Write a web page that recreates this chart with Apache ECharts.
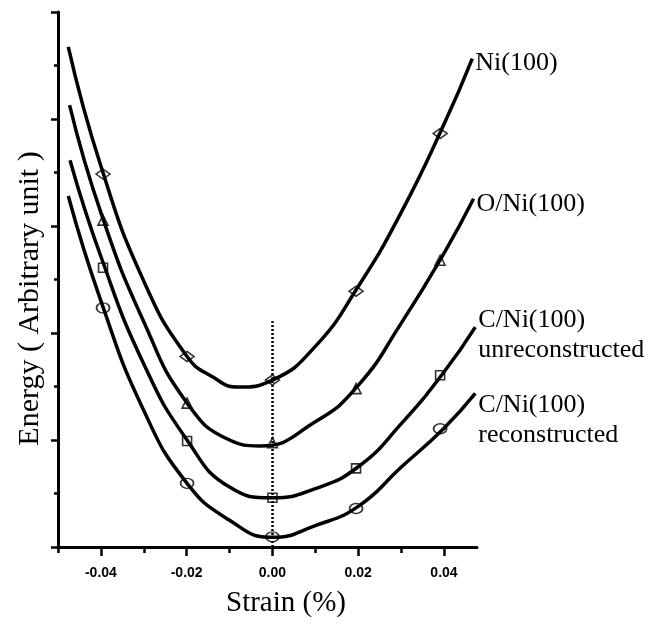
<!DOCTYPE html>
<html>
<head>
<meta charset="utf-8">
<title>Energy vs Strain</title>
<script src="https://cdn.jsdelivr.net/npm/echarts@6.0.0/dist/echarts.min.js"></script>
<style>
html, body { margin: 0; padding: 0; background: #fff; }
#chart { width: 655px; height: 627px; }
</style>
</head>
<body>
<div id="chart"></div>
<script>
// strain where the computed points sit (markers)
var markStrain = [-0.0395, -0.0199, 0, 0.0195, 0.0391];
var niMarks = [6.97, 3.56, 3.12, 4.78, 7.73];
var oniMarks = [6.11, 2.69, 1.95, 2.96, 5.36];
var unrecMarks = [5.22, 1.98, 0.92, 1.47, 3.21];
var recMarks = [4.47, 1.19, 0.19, 0.72, 2.21];

// fitted curves (bottom of each well included)
var niCurveX = [-0.0476, -0.04, -0.03, -0.02, -0.014, -0.008, 0, 0.01, 0.02, 0.03, 0.04, 0.0466];
var niCurveY = [9.35, 7.12, 4.97, 3.57, 3.18, 2.99, 3.12, 3.75, 4.87, 6.25, 7.90, 9.13];
var oniCurveX = [-0.0473, -0.04, -0.03, -0.02, -0.01, -0.003, 0.01, 0.02, 0.03, 0.04, 0.0469];
var oniCurveY = [8.26, 6.25, 4.21, 2.70, 2.00, 1.89, 2.34, 3.02, 4.18, 5.49, 6.51];
var unrecCurveX = [-0.0472, -0.04, -0.03, -0.02, -0.01, 0, 0.01, 0.02, 0.03, 0.04, 0.0473];
var unrecCurveY = [7.23, 5.43, 3.42, 2.01, 1.12, 0.92, 1.09, 1.50, 2.30, 3.27, 4.11];
var recCurveX = [-0.0476, -0.04, -0.03, -0.02, -0.01, 0, 0.01, 0.02, 0.03, 0.04, 0.0473];
var recCurveY = [6.56, 4.60, 2.55, 1.20, 0.50, 0.18, 0.40, 0.76, 1.49, 2.22, 2.87];

var curveNames = ['Ni(100)', 'O/Ni(100)', 'C/Ni(100)\nunreconstructed', 'C/Ni(100)\nreconstructed'];
var xTickValues = [-0.04, -0.02, 0, 0.02, 0.04];
var xMinorValues = [-0.05, -0.03, -0.01, 0.01, 0.03];
var dotLine = [0, 0, 4.22];   // x, y from, y to

function zip(xs, ys) {
    var out = [];
    for (var i = 0; i < xs.length; i++) {
        out.push([xs[i], ys[i]]);
    }
    return out;
}

function curveSeries(name, xs, ys, labelDy) {
    return {
        name: name,
        type: 'line',
        smooth: 0.5,
        showSymbol: false,
        symbol: 'none',
        z: 2,
        lineStyle: { color: '#000', width: 3.5 },
        data: zip(xs, ys),
        endLabel: {
            show: true,
            formatter: function (p) { return p.seriesName; },
            color: '#000',
            fontFamily: 'Liberation Serif',
            fontSize: 26,
            lineHeight: 30,
            distance: 3,
            offset: [0, labelDy]
        }
    };
}

function markSeries(symbol, size, ys) {
    return {
        type: 'scatter',
        symbol: symbol,
        symbolSize: size,
        z: 3,
        itemStyle: { color: 'transparent', borderColor: '#000', borderWidth: 1.6 },
        data: zip(markStrain, ys)
    };
}

function createChart() {
    var series = [
        curveSeries(curveNames[0], niCurveX, niCurveY, 5),
        curveSeries(curveNames[1], oniCurveX, oniCurveY, 5),
        curveSeries(curveNames[2], unrecCurveX, unrecCurveY, 8),
        curveSeries(curveNames[3], recCurveX, recCurveY, 27),
        markSeries('diamond', [14, 10], niMarks),
        markSeries('triangle', [10, 10], oniMarks),
        markSeries('rect', [9, 9], unrecMarks),
        markSeries('circle', [13, 10], recMarks)
    ];
    // dotted guide at zero strain
    series[0].markLine = {
        silent: true,
        symbol: ['none', 'none'],
        label: { show: false },
        lineStyle: { color: '#000', width: 2.5, type: [2, 2] },
        data: [[{ coord: [dotLine[0], dotLine[1]] }, { coord: [dotLine[0], dotLine[2]] }]]
    };

    var option = {
        animation: false,
        backgroundColor: '#fff',
        grid: { left: 58, right: 178, top: 12, bottom: 80 },
        xAxis: [{
            type: 'value',
            min: -0.05,
            max: 0.0477,
            name: 'Strain (%)',
            nameLocation: 'middle',
            nameGap: 42,
            nameTextStyle: { fontFamily: 'Liberation Serif', fontSize: 29, color: '#000', padding: [0, 0, 0, 37] },
            splitLine: { show: false },
            axisLine: { onZero: false, lineStyle: { color: '#000', width: 3 } },
            axisTick: { customValues: xTickValues, length: 9, lineStyle: { color: '#000', width: 2.5 } },
            axisLabel: {
                customValues: xTickValues,
                margin: 19,
                color: '#000',
                fontFamily: 'Liberation Sans',
                fontWeight: 'bold',
                fontSize: 14,
                formatter: function (v) { return v.toFixed(2); }
            }
        }, {
            type: 'value',
            min: -0.05,
            max: 0.0477,
            position: 'bottom',
            splitLine: { show: false },
            axisLine: { show: false },
            axisTick: { customValues: xMinorValues, length: 6, lineStyle: { color: '#000', width: 2.5 } },
            axisLabel: { show: false }
        }],
        yAxis: {
            type: 'value',
            min: 0,
            max: 10,
            interval: 2,
            name: 'Energy ( Arbitrary unit )',
            nameLocation: 'middle',
            nameGap: 13,
            nameTextStyle: { fontFamily: 'Liberation Serif', fontSize: 30, color: '#000', padding: [0, 38, 0, 0] },
            splitLine: { show: false },
            axisLine: { onZero: false, lineStyle: { color: '#000', width: 3 } },
            axisTick: { length: 7, lineStyle: { color: '#000', width: 2.5 } },
            minorTick: { show: true, splitNumber: 2, length: 4, lineStyle: { color: '#000', width: 2.5 } },
            axisLabel: { show: false }
        },
        series: series
    };
    var echart = echarts.init(document.getElementById('chart'));
    echart.setOption(option, true);
}

createChart();
</script>
</body>
</html>
